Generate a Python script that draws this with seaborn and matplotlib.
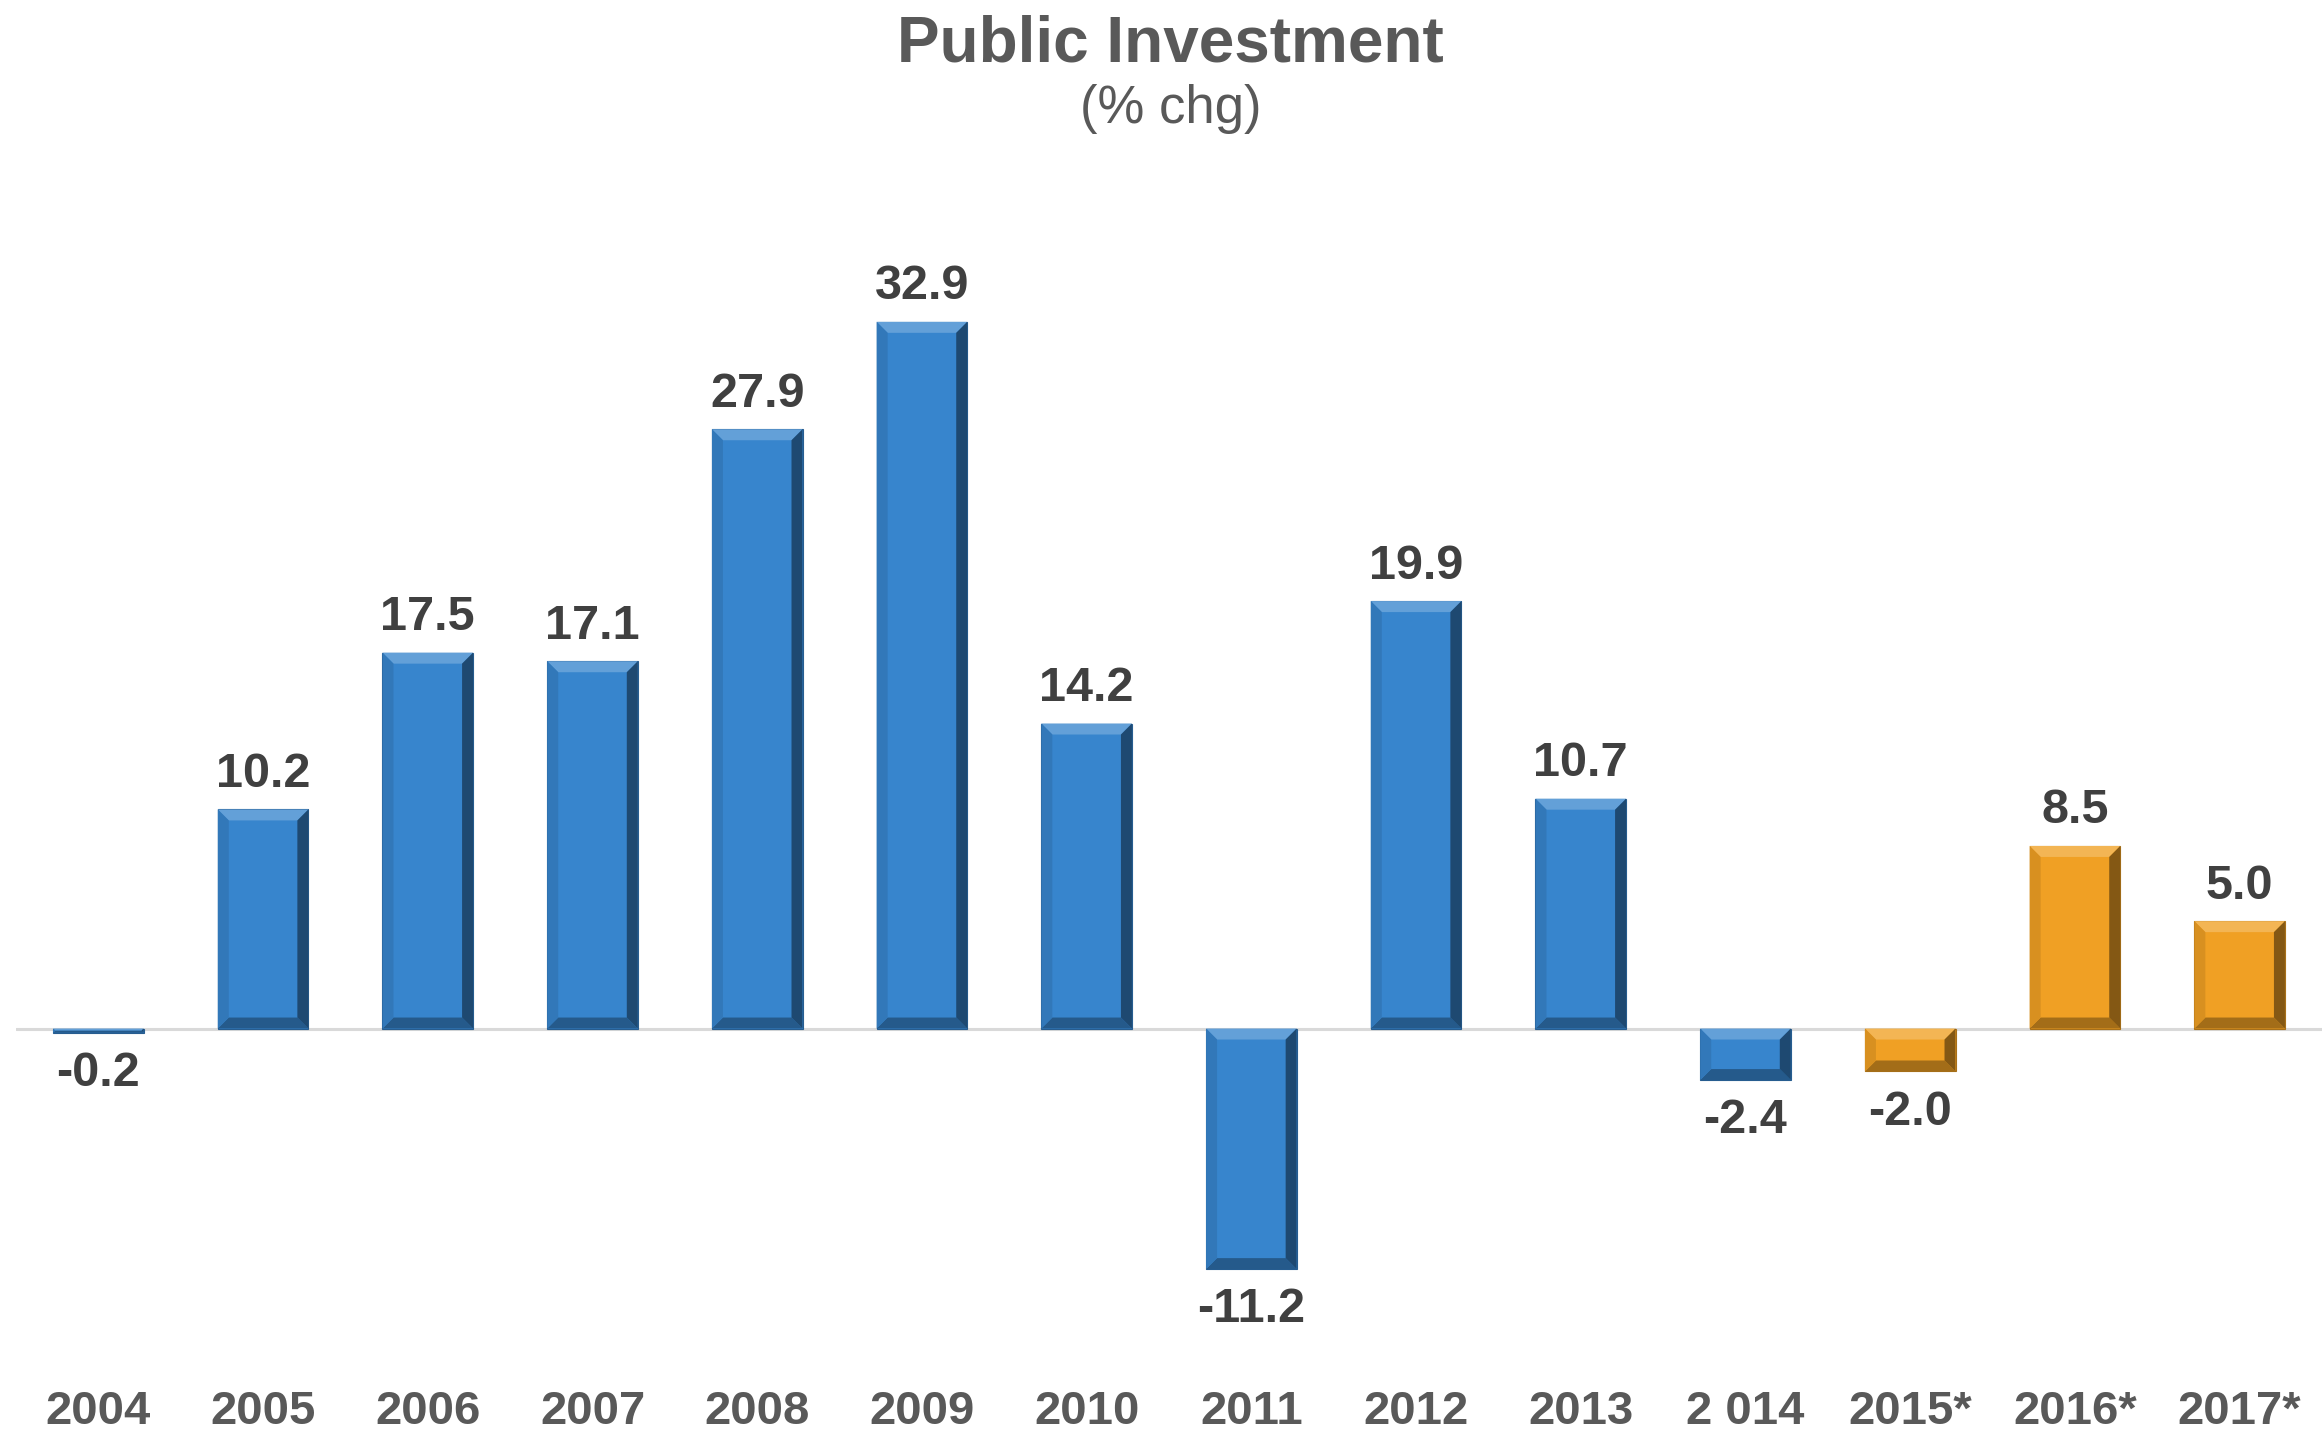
import numpy as np
import pandas as pd
import matplotlib
matplotlib.use("Agg")
import matplotlib.pyplot as plt
import seaborn as sns
from matplotlib.patches import Polygon
from matplotlib.colors import to_rgb

years = ["2004", "2005", "2006", "2007", "2008", "2009", "2010",
         "2011", "2012", "2013", "2 014", "2015*", "2016*", "2017*"]
values = [-0.2, 10.2, 17.5, 17.1, 27.9, 32.9, 14.2,
          -11.2, 19.9, 10.7, -2.4, -2.0, 8.5, 5.0]
is_forecast = [False] * 11 + [True] * 3

BLUE = "#3785CD"
ORANGE = "#F0A024"

sns.set_theme(style="white")
plt.rcParams["font.family"] = ["Liberation Sans", "DejaVu Sans"]

df = pd.DataFrame({"year": years, "value": values})
colors = [ORANGE if f else BLUE for f in is_forecast]

fig = plt.figure(figsize=(23.22, 14.31), dpi=100)
ax = fig.add_axes([16 / 2322, 1 - 1340 / 1431, 1 - 16 / 2322, (1340 - 150) / 1431])

sns.barplot(data=df, x="year", y="value", hue="year", palette=colors,
            legend=False, width=0.55, saturation=1, ax=ax)

ax.set_xlim(-0.5, len(years) - 0.5)
ax.set_ylim(-14.5, 40.9)
ax.axhline(0, color="#D9D9D9", lw=2.2, zorder=0.5)

for s in ax.spines.values():
    s.set_visible(False)
ax.set_yticks([])
ax.set_xlabel("")
ax.set_ylabel("")
ax.tick_params(axis="x", length=0, pad=36, labelsize=34, labelcolor="#595959")
for t in ax.get_xticklabels():
    t.set_fontweight("bold")


def shade(c, f):
    r = np.array(to_rgb(c))
    if f >= 0:
        return tuple(r + (1 - r) * f)
    return tuple(r * (1 + f))


# bevelled edges on every bar
fig.canvas.draw()
inv = ax.transData.inverted()
bevel_px = 11
for patch, col in zip(ax.patches, colors):
    x0, y0 = patch.get_x(), patch.get_y()
    w, h = patch.get_width(), patch.get_height()
    ylo, yhi = min(y0, y0 + h), max(y0, y0 + h)
    (px0, py0) = ax.transData.transform((x0, ylo))
    (px1, py1) = ax.transData.transform((x0 + w, yhi))
    b = min(bevel_px, (py1 - py0) / 2, (px1 - px0) / 2)
    pts = {
        "top": [(px0, py1), (px1, py1), (px1 - b, py1 - b), (px0 + b, py1 - b)],
        "bottom": [(px0, py0), (px1, py0), (px1 - b, py0 + b), (px0 + b, py0 + b)],
        "left": [(px0, py0), (px0, py1), (px0 + b, py1 - b), (px0 + b, py0 + b)],
        "right": [(px1, py0), (px1, py1), (px1 - b, py1 - b), (px1 - b, py0 + b)],
    }
    tones = {"top": 0.22, "bottom": -0.32, "left": -0.1, "right": -0.45}
    for side, p in pts.items():
        dp = inv.transform(np.array(p))
        ax.add_patch(Polygon(dp, closed=True, facecolor=shade(col, tones[side]),
                             edgecolor="none", zorder=3))
    patch.set_edgecolor(shade(col, -0.3))
    patch.set_linewidth(0.8)

# value labels
for i, v in enumerate(values):
    if v >= 0:
        ax.annotate(f"{v:.1f}", (i, v), xytext=(0, 9), textcoords="offset points",
                    ha="center", va="bottom", fontsize=35, fontweight="bold",
                    color="#404040")
    else:
        ax.annotate(f"{v:.1f}", (i, v), xytext=(0, -13), textcoords="offset points",
                    ha="center", va="top", fontsize=35, fontweight="bold",
                    color="#404040")

fig.text(0.504, 1 - 62 / 1431, "Public Investment", ha="center", va="baseline",
         fontsize=46, fontweight="bold", color="#595959")
fig.text(0.504, 1 - 123 / 1431, "(% chg)", ha="center", va="baseline",
         fontsize=38, color="#595959")

fig.savefig("out.png", dpi=100, facecolor="white")
